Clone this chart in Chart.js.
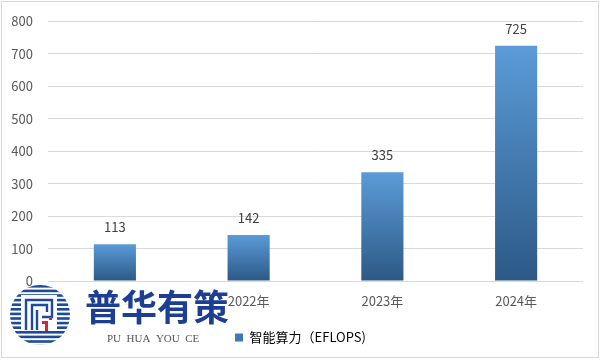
<!DOCTYPE html>
<html><head><meta charset="utf-8">
<script src="https://cdn.jsdelivr.net/npm/chart.js@4.4.0/dist/chart.umd.min.js"></script>
<style>
html,body{margin:0;padding:0;background:#fff;}
#wrap{position:relative;width:601px;height:361px;}
</style></head>
<body><div id="wrap"><canvas id="c" width="601" height="361"></canvas></div>
<script>
const categories = ['2021年','2022年','2023年','2024年'];
const values = [113, 142, 335, 725];
const seriesName = '智能算力（EFLOPS)';
const yTicks = [0,100,200,300,400,500,600,700,800];

const FONT = "'Microsoft YaHei','Noto Sans CJK SC','DejaVu Sans',sans-serif";

function barGradient(ctx){
  const chart = ctx.chart;
  const area = chart.chartArea;
  if(!area || ctx.dataIndex === undefined) return '#4a86c5';
  const y = chart.scales.y;
  const top = y.getPixelForValue(values[ctx.dataIndex]);
  const base = y.getPixelForValue(0);
  const g = chart.ctx.createLinearGradient(0, top, 0, base);
  g.addColorStop(0, '#5b9bd8');
  g.addColorStop(1, '#2c5985');
  return g;
}

const decor = {
  id:'decor',
  afterDatasetsDraw(chart){
    const c = chart.ctx;
    const meta = chart.getDatasetMeta(0);
    c.save();
    c.font = "13px " + FONT;
    c.fillStyle = '#404040';
    c.textAlign = 'center';
    c.textBaseline = 'middle';
    meta.data.forEach((el,i)=>{
      c.fillText(String(values[i]), el.x, el.y - 17);
    });
    c.restore();
  },
  afterDraw(chart){
    const c = chart.ctx;
    c.save();
    // outer border
    c.strokeStyle = '#d9d9d9';
    c.lineWidth = 1;
    c.strokeRect(1.5,1.5,597,356);
    // logo background
    c.fillStyle = 'rgba(255,255,255,0.92)';
    c.fillRect(10,286,216,66);
    // circle logo
    const cx = 40, cy = 315, r = 30;
    c.save();
    c.beginPath(); c.arc(cx,cy,r,0,Math.PI*2); c.clip();
    c.fillStyle = '#1e4a9a';
    for(let yy = cy - r; yy < cy + r; yy += 4.6){
      c.fillRect(cx - r, yy, 2*r, 2.6);
    }
    c.restore();
    // inner white area
    c.fillStyle = '#fff';
    c.fillRect(cx-19, cy-20, 36, 36);
    // P-shape
    c.strokeStyle = '#1e4a9a';
    c.lineWidth = 2.4;
    c.beginPath();
    c.moveTo(cx-14, cy+15); c.lineTo(cx-14, cy-15); c.lineTo(cx+12, cy-15); c.lineTo(cx+12, cy+2); c.lineTo(cx+2, cy+2);
    c.moveTo(cx-8, cy+15); c.lineTo(cx-8, cy-10); c.lineTo(cx+7, cy-10); c.lineTo(cx+7, cy-3);
    c.moveTo(cx-3, cy+15); c.lineTo(cx-3, cy-5);
    c.stroke();
    c.fillStyle = '#d9262c';
    c.fillRect(cx+2, cy+6, 6, 3);
    c.fillRect(cx+5, cy+6, 3, 10);
    c.fillRect(cx+9, cy+2, 3, 3);
    // brand text
    c.fillStyle = '#1c3f93';
    c.font = "bold 36px 'Noto Sans CJK SC',sans-serif";
    c.textBaseline = 'middle';
    c.textAlign = 'left';
    c.fillText('普华有策', 85, 307);
    c.fillStyle = '#555';
    c.font = "11px 'Liberation Serif',serif";
    c.fillText('PU  HUA  YOU  CE', 107, 339);
    c.restore();
  }
};

new Chart(document.getElementById('c'), {
  type:'bar',
  data:{
    labels: categories,
    datasets:[{
      label: seriesName,
      data: values,
      backgroundColor: barGradient,
      borderWidth:0,
      categoryPercentage: 1.0,
      barPercentage: 0.315
    }]
  },
  options:{
    responsive:false,
    animation:false,
    layout:{padding:{left:0,right:0,top:5,bottom:7}},
    plugins:{
      tooltip:{enabled:false},
      legend:{
        position:'bottom',
        labels:{
          font:{size:13,family:FONT},
          color:'#595959',
          boxWidth:8, boxHeight:8,
          padding:8,
          generateLabels(chart){
            return [{text: seriesName, fillStyle:'#3f77b1', strokeStyle:'#3f77b1', lineWidth:0, datasetIndex:0}];
          }
        }
      }
    },
    scales:{
      x:{
        grid:{display:false, drawTicks:false},
        border:{display:false},
        ticks:{font:{size:13,family:FONT}, color:'#595959', padding:12},
        afterFit(s){ s.height = 42; }
      },
      y:{
        min:0,max:800,
        afterBuildTicks(s){ s.ticks = yTicks.map(v=>({value:v})); },
        grid:{color:'#d9d9d9', drawTicks:false},
        border:{display:false},
        ticks:{font:{size:13,family:FONT,lineHeight:1.0}, color:'#595959', padding:15},
        afterFit(s){ s.width = 48; }
      },
      yR:{
        position:'right',
        min:0,max:800,
        grid:{display:false, drawTicks:false},
        border:{display:false},
        ticks:{display:false},
        afterFit(s){ s.width = 18; }
      }
    }
  },
  plugins:[decor]
});
</script></body></html>
